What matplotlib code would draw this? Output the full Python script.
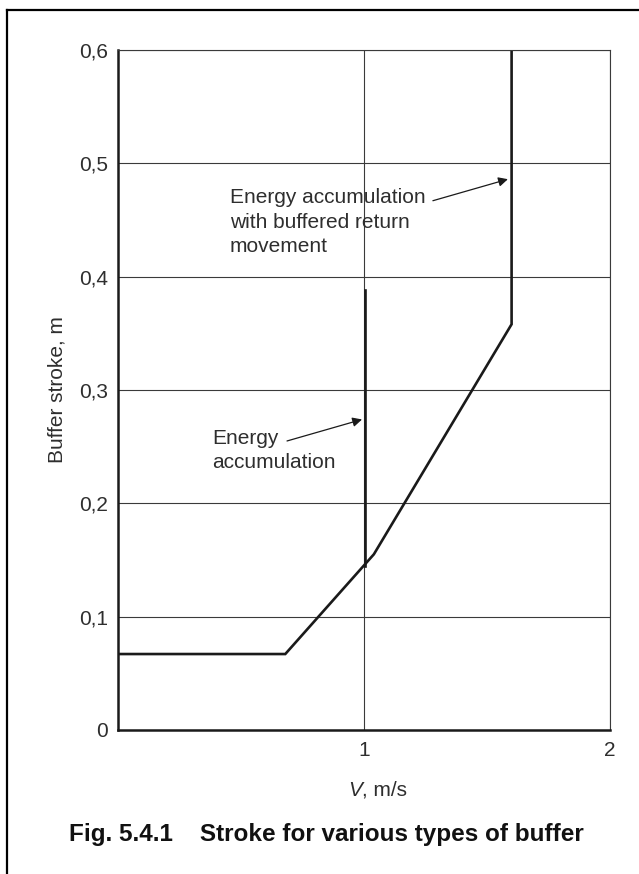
import matplotlib
matplotlib.use("Agg")
import matplotlib.pyplot as plt
from matplotlib.lines import Line2D

plt.rcParams["font.family"] = ["Liberation Sans", "DejaVu Sans"]

# combined curve (energy dissipation / buffered return)
curve_v = [0.0, 0.68, 1.04, 1.60, 1.60]
curve_s = [0.067, 0.067, 0.155, 0.358, 0.60]

# energy accumulation branch
acc_v = [1.005, 1.005]
acc_s = [0.145, 0.388]

y_ticks = [0, 0.1, 0.2, 0.3, 0.4, 0.5, 0.6]
y_tick_labels = ["0", "0,1", "0,2", "0,3", "0,4", "0,5", "0,6"]
x_ticks = [1, 2]
x_tick_labels = ["1", "2"]

TEXT = "#2e2e2e"
GRID = "#3a3a3a"
FS = 15

fig = plt.figure(figsize=(6.39, 8.74), dpi=100)
ax = fig.add_axes([0.1847, 0.1648, 0.7699, 0.778])

ax.plot(curve_v, curve_s, color="#1a1a1a", linewidth=1.9, solid_joinstyle="miter")
ax.plot(acc_v, acc_s, color="#1a1a1a", linewidth=1.9)

ax.set_xlim(0, 2)
ax.set_ylim(0, 0.6)
ax.set_yticks(y_ticks)
ax.set_yticklabels(y_tick_labels)
ax.set_xticks(x_ticks)
ax.set_xticklabels(x_tick_labels)
ax.tick_params(length=0, labelsize=FS, labelcolor=TEXT)
ax.tick_params(axis="y", pad=7)
ax.tick_params(axis="x", pad=8)
ax.grid(True, color=GRID, linewidth=0.8)
ax.set_axisbelow(True)

for side in ("left", "bottom"):
    ax.spines[side].set_linewidth(1.8)
    ax.spines[side].set_color("#1a1a1a")
for side in ("top", "right"):
    ax.spines[side].set_linewidth(0.8)
    ax.spines[side].set_color(GRID)

ax.set_ylabel("Buffer stroke, m", fontsize=FS, color=TEXT, labelpad=9)

# x label with italic V
fig.text(0.566, 1 - 790 / 874, "V", fontsize=FS, color=TEXT, style="italic",
         ha="right", va="center")
fig.text(0.566, 1 - 790 / 874, ", m/s", fontsize=FS, color=TEXT,
         ha="left", va="center")

ax.text(0.455, 0.448, "Energy accumulation\nwith buffered return\nmovement",
        fontsize=FS, color=TEXT, ha="left", va="center", linespacing=1.36)
ax.text(0.382, 0.2465, "Energy\naccumulation",
        fontsize=FS, color=TEXT, ha="left", va="center", linespacing=1.36)

arrow_kw = dict(arrowstyle="-|>", color="#1a1a1a", lw=0.9,
                mutation_scale=14, shrinkA=0, shrinkB=0)
ax.annotate("", xy=(1.585, 0.486), xytext=(1.28, 0.467), arrowprops=arrow_kw)
ax.annotate("", xy=(0.992, 0.274), xytext=(0.687, 0.255), arrowprops=arrow_kw)

fig.text(0.511, 1 - 835 / 874,
         "Fig. 5.4.1    Stroke for various types of buffer",
         fontsize=17.5, fontweight="bold", color="#111111",
         ha="center", va="center")

# outer frame: left and top edges
fig.add_artist(Line2D([7 / 639, 7 / 639], [0, 1 - 10 / 874],
                      transform=fig.transFigure, color="black", linewidth=1.6))
fig.add_artist(Line2D([7 / 639, 1], [1 - 10 / 874, 1 - 10 / 874],
                      transform=fig.transFigure, color="black", linewidth=1.6))

fig.savefig("out.png", dpi=100)
